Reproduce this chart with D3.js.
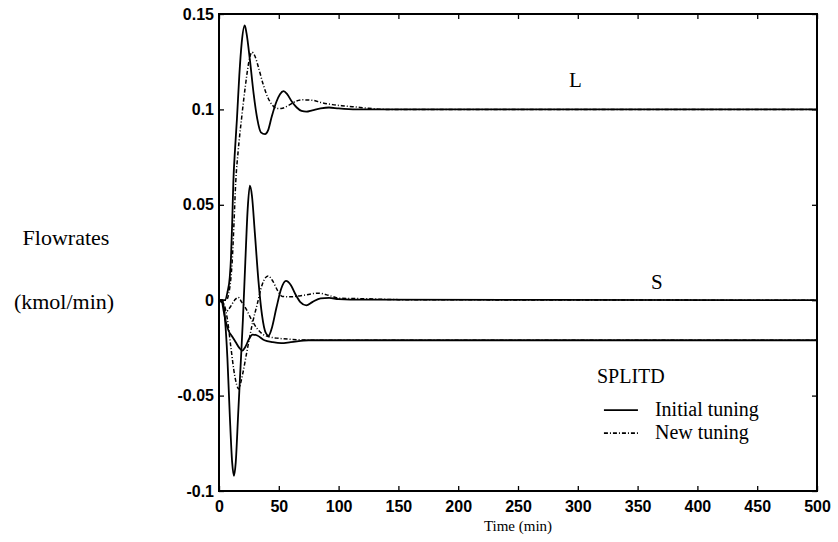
<!DOCTYPE html>
<html>
<head>
<meta charset="utf-8">
<script src="https://cdn.jsdelivr.net/npm/d3@7"></script>
<style>
  body { margin: 0; background: #fff; }
  svg text { fill: #000; }
  svg text.serif { font-family: "Liberation Serif", "DejaVu Serif", serif; }
</style>
</head>
<body>
<div id="chart"></div>
<script>
// time (min), flowrate (kmol/min)
const lInitial = [[0,0],[5,0],[7,0.004],[9,0.012],[10,0.022],[11,0.04],[12,0.062],[13.5,0.08],[15,0.095],[17,0.118],[19,0.135],[21.5,0.144],[23,0.14],[26,0.125],[29,0.108],[32,0.095],[35,0.088],[38.5,0.087],[41,0.089],[44,0.096],[48,0.104],[51,0.108],[54,0.1096],[57,0.108],[61,0.104],[65,0.101],[69,0.0992],[73,0.0988],[78,0.0995],[85,0.1005],[92,0.101],[100,0.1005],[115,0.1],[500,0.1]];
const lNew = [[0,0],[6,0],[8,0.003],[10,0.012],[11,0.02],[12.5,0.04],[14,0.062],[16,0.078],[19,0.096],[22,0.112],[25,0.125],[27.5,0.13],[30,0.128],[33,0.122],[37,0.113],[41,0.106],[45,0.102],[48,0.1005],[52,0.1005],[58,0.102],[64,0.1042],[70,0.105],[78,0.1048],[86,0.1035],[95,0.1025],[105,0.1018],[115,0.1012],[125,0.1006],[140,0.1],[500,0.1]];
const sInitial = [[0,0],[3,0],[5,-0.01],[7,-0.03],[9,-0.06],[11,-0.085],[12.5,-0.092],[14,-0.085],[16,-0.06],[18,-0.035],[20,-0.01],[22,0.02],[24,0.048],[25.8,0.06],[27.5,0.055],[30,0.035],[33,0.01],[36,-0.008],[39,-0.017],[41.5,-0.0186],[44,-0.015],[48,-0.004],[52,0.006],[56,0.0101],[60,0.008],[64,0.003],[68,-0.001],[73,-0.0027],[78,-0.001],[85,0.001],[92,0.0012],[100,0.0006],[120,0.0003],[500,0]];
const sNew = [[0,0],[4,-0.002],[7,-0.01],[10,-0.025],[13,-0.039],[16.5,-0.0465],[19,-0.041],[23,-0.028],[28,-0.012],[32,-0.002],[36,0.008],[41,0.0127],[45,0.01],[49,0.005],[53,0.002],[60,0.0018],[70,0.0025],[83,0.0037],[92,0.0025],[101,0.001],[120,0.0008],[150,0.0003],[200,0.0002],[500,0]];
const dInitial = [[0,0],[2,0],[4,-0.006],[6,-0.012],[8,-0.016],[11,-0.019],[14,-0.022],[17,-0.025],[19.5,-0.0264],[22,-0.0245],[25,-0.0205],[28,-0.018],[32,-0.0185],[38,-0.021],[45,-0.022],[52,-0.0225],[60,-0.022],[75,-0.021],[500,-0.021]];
const dNew = [[0,0],[3,-0.002],[6,-0.006],[9,-0.004],[13,0],[16,0.0015],[19,-0.001],[23,-0.005],[27,-0.01],[32,-0.015],[37,-0.018],[42,-0.0192],[50,-0.02],[60,-0.0205],[80,-0.021],[100,-0.021],[500,-0.021]];

const xTicks = [0, 50, 100, 150, 200, 250, 300, 350, 400, 450, 500];
const yTicks = [0.15, 0.1, 0.05, 0, -0.05, -0.1];
const yTickLabels = ["0.15", "0.1", "0.05", "0", "-0.05", "-0.1"];

const curveLabels = [
  { text: "L", t: 298, v: 0.112 },
  { text: "S", t: 366, v: 0.006 }
];
const legendItems = [
  { text: "Initial tuning", dash: null },
  { text: "New tuning", dash: "4,2,1,2" }
];

const width = 838, height = 542;
const margin = { top: 14, left: 219, right: 21, bottom: 51 };
const plotW = width - margin.left - margin.right;
const plotH = height - margin.top - margin.bottom;

const svg = d3.select("#chart").append("svg")
  .attr("width", width)
  .attr("height", height);

const g = svg.append("g")
  .attr("transform", `translate(${margin.left},${margin.top})`);

const x = d3.scaleLinear().domain([0, 500]).range([0, plotW]);
const y = d3.scaleLinear().domain([-0.1, 0.15]).range([plotH, 0]);

// axes, ticks pointing inwards on all four sides
const xAxis = g.append("g")
  .attr("transform", `translate(0,${plotH})`)
  .call(d3.axisBottom(x).tickValues(xTicks).tickSize(-5).tickPadding(10).tickFormat(d3.format("d")));
g.append("g")
  .call(d3.axisTop(x).tickValues(xTicks).tickSize(-5).tickFormat(""));
const yAxis = g.append("g")
  .call(d3.axisLeft(y).tickValues(yTicks).tickSize(-5).tickPadding(5)
    .tickFormat((d, i) => yTickLabels[i]));
g.append("g")
  .attr("transform", `translate(${plotW},0)`)
  .call(d3.axisRight(y).tickValues(yTicks).tickSize(-5).tickFormat(""));

g.selectAll(".domain").remove();
g.selectAll(".tick line").attr("stroke", "#000").attr("stroke-width", 1.3);
[xAxis, yAxis].forEach(a => a
  .attr("font-family", "Liberation Sans")
  .attr("font-weight", "bold")
  .attr("font-size", 16));

g.append("rect")
  .attr("width", plotW)
  .attr("height", plotH)
  .attr("fill", "none")
  .attr("stroke", "#000")
  .attr("stroke-width", 2);

// curves
const line = d3.line()
  .x(d => x(d[0]))
  .y(d => y(d[1]))
  .curve(d3.curveMonotoneX);

const series = [
  { data: lInitial, dash: null },
  { data: lNew, dash: "4,2,1,2" },
  { data: sInitial, dash: null },
  { data: sNew, dash: "4,2,1,2" },
  { data: dInitial, dash: null },
  { data: dNew, dash: "4,2,1,2" }
];

g.selectAll(".curve")
  .data(series)
  .enter()
  .append("path")
  .attr("class", "curve")
  .attr("d", d => line(d.data))
  .attr("fill", "none")
  .attr("stroke", "#000")
  .attr("stroke-width", d => d.dash ? 1.5 : 1.8)
  .attr("stroke-dasharray", d => d.dash);

g.selectAll(".clabel")
  .data(curveLabels)
  .enter()
  .append("text")
  .attr("class", "serif")
  .attr("x", d => x(d.t))
  .attr("y", d => y(d.v))
  .attr("text-anchor", "middle")
  .attr("font-size", 21)
  .text(d => d.text);

// legend
const leg = g.append("g").attr("transform", `translate(${x(316)},${y(-0.0435)})`);
leg.append("text")
  .attr("class", "serif")
  .attr("x", 0)
  .attr("y", 0)
  .attr("font-size", 20)
  .text("SPLITD");
legendItems.forEach((d, i) => {
  const yy = 33 + i * 23;
  leg.append("line")
    .attr("x1", 7).attr("x2", 41)
    .attr("y1", yy - 6).attr("y2", yy - 6)
    .attr("stroke", "#000")
    .attr("stroke-width", 1.8)
    .attr("stroke-dasharray", d.dash);
  leg.append("text")
    .attr("class", "serif")
    .attr("x", 58)
    .attr("y", yy)
    .attr("font-size", 20)
    .text(d.text);
});

// axis titles
svg.append("text")
  .attr("class", "serif")
  .attr("x", margin.left + x(250))
  .attr("y", margin.top + plotH + 40)
  .attr("text-anchor", "middle")
  .attr("font-size", 15)
  .text("Time (min)");

svg.append("text")
  .attr("class", "serif")
  .attr("x", 66)
  .attr("y", 245)
  .attr("text-anchor", "middle")
  .attr("font-size", 22)
  .text("Flowrates");
svg.append("text")
  .attr("class", "serif")
  .attr("x", 64)
  .attr("y", 309)
  .attr("text-anchor", "middle")
  .attr("font-size", 22)
  .text("(kmol/min)");
</script>
</body>
</html>
